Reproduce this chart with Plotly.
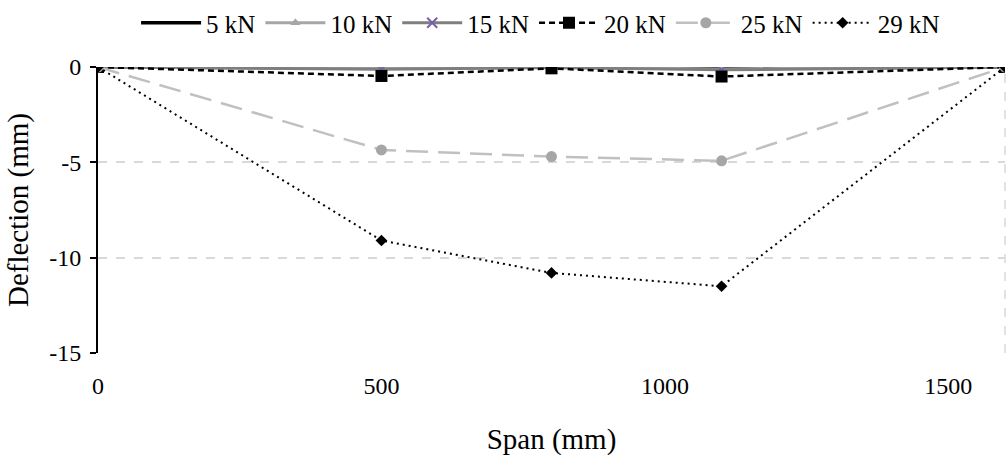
import plotly.graph_objects as go

span = [0, 500, 800, 1100, 1600]
names = ["5 kN", "10 kN", "15 kN", "20 kN", "25 kN", "29 kN"]
d5 = [0, -0.05, 0, -0.05, 0]
d10 = [0, -0.08, -0.02, -0.1, 0]
d15 = [0, -0.12, -0.03, -0.15, 0]
d20 = [0, -0.47, -0.07, -0.5, 0]
d25 = [0, -4.35, -4.7, -4.92, 0]
d29 = [0, -9.1, -10.8, -11.5, 0]
xticks = [0, 500, 1000, 1500]
yticks = [0, -5, -10, -15]
yticklabels = ["0", "-5", "-10", "-15"]

styles = [
    dict(line=dict(color="black", width=3.5, dash="solid"), mode="lines",
         marker=dict()),
    dict(line=dict(color="#a6a6a6", width=3, dash="solid"), mode="lines+markers",
         marker=dict(symbol="triangle-up", size=9, color="#a6a6a6")),
    dict(line=dict(color="#7f7f7f", width=3, dash="solid"), mode="lines+markers",
         marker=dict(symbol="x-thin", size=10, color="#7a5fa6", line=dict(width=2, color="#7a5fa6"))),
    dict(line=dict(color="black", width=2.5, dash="6px,4px"), mode="lines+markers",
         marker=dict(symbol="square", size=12, color="black")),
    dict(line=dict(color="#c0c0c0", width=2.5, dash="22px,10px"), mode="lines+markers",
         marker=dict(symbol="circle", size=11, color="#a6a6a6")),
    dict(line=dict(color="black", width=2, dash="2px,4px"), mode="lines+markers",
         marker=dict(symbol="diamond", size=9, color="black")),
]

fig = go.Figure()
for name, ys, st in zip(names, [d5, d10, d15, d20, d25, d29], styles):
    fig.add_trace(go.Scatter(x=span, y=ys, name=name, mode=st["mode"],
                             line=st["line"], marker=st["marker"]))

font = dict(family="Liberation Serif, serif", size=24, color="black")

fig.update_layout(
    width=1008, height=459,
    margin=dict(l=98, r=3, t=67, b=106, autoexpand=False),
    plot_bgcolor="white", paper_bgcolor="white",
    font=font,
    showlegend=True,
    legend=dict(orientation="h", xref="container", x=0.135, xanchor="left",
                yref="container", y=1.0, yanchor="top",
                bgcolor="rgba(0,0,0,0)", font=dict(size=25),
                itemsizing="trace", itemwidth=60),
    xaxis=dict(range=[0, 1600], tickvals=xticks, showgrid=False, automargin=False,
               zeroline=False, showline=False, ticks="", ticklabelstandoff=16,
               title=dict(text="Span (mm)", standoff=30)),
    yaxis=dict(range=[-15, 0], tickvals=yticks, ticktext=yticklabels, showgrid=True,
               gridcolor="#d9d9d9", griddash="dash", gridwidth=1.5, automargin=False,
               zeroline=False, showline=True, linecolor="black", linewidth=2,
               ticks="outside", ticklen=6, tickwidth=2, tickcolor="black",
               ticklabelstandoff=4,
               title=dict(text="Deflection (mm)", standoff=12)),
)

fig.add_shape(type="line", xref="paper", yref="paper", x0=1, x1=1, y0=0, y1=1,
              line=dict(color="#d9d9d9", width=1.5, dash="dash"), layer="below")

fig.write_html("out.html", config={"displayModeBar": False},
               post_script="document.body.style.margin='0';")
